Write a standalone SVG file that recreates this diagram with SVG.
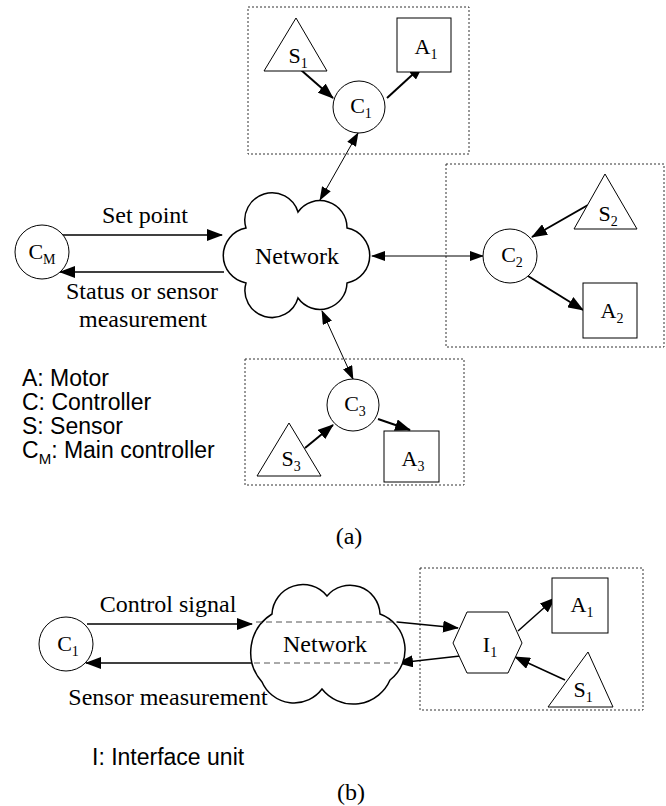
<svg xmlns="http://www.w3.org/2000/svg" width="666" height="806" viewBox="0 0 666 806">
<style>
.bg{fill:#fff}
.box{fill:none;stroke:#333;stroke-width:1;stroke-dasharray:2,2}
.shape{fill:#fff;stroke:#000;stroke-width:1}
.cloud{fill:#fff;stroke:#000;stroke-width:1.5}
.thick{stroke:#000;stroke-width:2;fill:none}
.thin{stroke:#000;stroke-width:1;fill:none}
.mid{stroke:#000;stroke-width:1.5;fill:none}
.dash{stroke:#555;stroke-width:1;stroke-dasharray:6,4;fill:none}
.node{font-family:"Liberation Serif","Times New Roman",serif;font-size:22px;text-anchor:middle;fill:#000}
.lbl{font-family:"Liberation Serif","Times New Roman",serif;font-size:24px;text-anchor:middle;fill:#000}
.leg{font-family:"Liberation Sans",Arial,sans-serif;font-size:23px;fill:#000}
</style>
<defs>
<marker id="ah" markerUnits="userSpaceOnUse" viewBox="0 0 16 12" markerWidth="16" markerHeight="12" refX="15" refY="6" orient="auto-start-reverse"><path d="M0,0 L16,6 L0,12 z" fill="#000"/></marker>
<marker id="as" markerUnits="userSpaceOnUse" viewBox="0 0 14 10" markerWidth="14" markerHeight="10" refX="13" refY="5" orient="auto-start-reverse"><path d="M0,0 L14,5 L0,10 z" fill="#000"/></marker>
</defs>
<rect class="bg" x="0" y="0" width="666" height="806"/>

<g id="boxes">
<rect class="box" x="248" y="7" width="221" height="147"/>
<rect class="box" x="446" y="164" width="218" height="183"/>
<rect class="box" x="245" y="359" width="219" height="126"/>
<rect class="box" x="420" y="568" width="223" height="142"/>
</g>

<g id="connectors">
<line class="thick" x1="293" y1="63" x2="333" y2="98" marker-end="url(#ah)"/>
<line class="thick" x1="387" y1="98" x2="423" y2="65" marker-end="url(#ah)"/>
<line class="thin" x1="320" y1="200" x2="358" y2="133" marker-start="url(#as)" marker-end="url(#as)"/>
<line class="thin" x1="372" y1="256" x2="483" y2="256" marker-start="url(#as)" marker-end="url(#as)"/>
<line class="thin" x1="322" y1="311" x2="353" y2="379" marker-start="url(#as)" marker-end="url(#as)"/>
<line class="thick" x1="588" y1="205" x2="532" y2="237" marker-end="url(#ah)"/>
<line class="thick" x1="528" y1="276" x2="583" y2="310" marker-end="url(#ah)"/>
<line class="thick" x1="305" y1="448" x2="333" y2="425" marker-end="url(#ah)"/>
<line class="thick" x1="378" y1="419" x2="410" y2="430" marker-end="url(#ah)"/>
<line class="mid" x1="62" y1="235" x2="222" y2="235" marker-end="url(#ah)"/>
<line class="mid" x1="224" y1="272" x2="60" y2="272" marker-end="url(#ah)"/>
<line class="mid" x1="87" y1="624" x2="252" y2="624" marker-end="url(#ah)"/>
<line class="mid" x1="254" y1="663" x2="86" y2="663" marker-end="url(#ah)"/>
<line class="mid" x1="397" y1="622" x2="458" y2="628" marker-end="url(#ah)"/>
<line class="mid" x1="460" y1="656" x2="398" y2="663" marker-end="url(#ah)"/>
<line class="mid" x1="518" y1="631" x2="555" y2="598" marker-end="url(#ah)"/>
<line class="mid" x1="565" y1="680" x2="515" y2="657" marker-end="url(#ah)"/>
</g>

<g id="network-a">
<path class="cloud" d="M298,212 A27,27 0 0 1 347,228 A28,28 0 0 1 347,283 A27,27 0 0 1 298,298 A27,27 0 0 1 246,283 A28,28 0 0 1 246,228 A27,27 0 0 1 298,212 Z"/>
<text class="lbl" x="297" y="264">Network</text>
</g>

<g id="CM">
<circle class="shape" cx="42" cy="252" r="27"/>
<text class="node" x="42" y="259">C<tspan font-size="14" dy="5">M</tspan></text>
</g>
<g id="labels-a">
<text class="lbl" x="145" y="223">Set point</text>
<text class="lbl" x="142" y="299">Status or sensor</text>
<text class="lbl" x="143" y="327">measurement</text>
</g>

<g id="S1a">
<polygon class="shape" points="296,18 264,71 327,71"/>
<text class="node" x="298" y="63">S<tspan font-size="14" dy="5">1</tspan></text>
</g>
<g id="C1a">
<circle class="shape" cx="359" cy="107" r="26"/>
<text class="node" x="361" y="113">C<tspan font-size="14" dy="5">1</tspan></text>
</g>
<g id="A1a">
<rect class="shape" x="397" y="18" width="54" height="54"/>
<text class="node" x="426" y="54">A<tspan font-size="14" dy="5">1</tspan></text>
</g>

<g id="S2">
<polygon class="shape" points="605,174 574,229 637,229"/>
<text class="node" x="608" y="221">S<tspan font-size="14" dy="5">2</tspan></text>
</g>
<g id="C2">
<circle class="shape" cx="510" cy="256" r="27"/>
<text class="node" x="512" y="262">C<tspan font-size="14" dy="5">2</tspan></text>
</g>
<g id="A2">
<rect class="shape" x="583" y="283" width="54" height="55"/>
<text class="node" x="612" y="318">A<tspan font-size="14" dy="5">2</tspan></text>
</g>

<g id="C3">
<circle class="shape" cx="353" cy="405" r="26"/>
<text class="node" x="355" y="411">C<tspan font-size="14" dy="5">3</tspan></text>
</g>
<g id="S3">
<polygon class="shape" points="289,423 257,476 321,476"/>
<text class="node" x="291" y="466">S<tspan font-size="14" dy="5">3</tspan></text>
</g>
<g id="A3">
<rect class="shape" x="384" y="431" width="55" height="51"/>
<text class="node" x="413" y="466">A<tspan font-size="14" dy="5">3</tspan></text>
</g>

<g id="legend-a">
<text class="leg" x="22" y="386">A: Motor</text>
<text class="leg" x="22" y="410">C: Controller</text>
<text class="leg" x="22" y="434">S: Sensor</text>
<text class="leg" x="22" y="458">C<tspan font-size="15" dy="6">M</tspan><tspan dy="-6">: Main controller</tspan></text>
</g>
<text class="lbl" x="349" y="544" font-size="21">(a)</text>

<g id="C1b">
<circle class="shape" cx="66" cy="644" r="27"/>
<text class="node" x="68" y="651">C<tspan font-size="14" dy="5">1</tspan></text>
</g>
<g id="labels-b">
<text class="lbl" x="168" y="612">Control signal</text>
<text class="lbl" x="168" y="705">Sensor measurement</text>
</g>
<g id="network-b">
<path class="cloud" d="M327,596 A30,30 0 0 1 380,614 A38,38 0 0 1 390,680 A40,40 0 0 1 322,689 A35,35 0 0 1 262,682 A45,45 0 0 1 272,614 A31,31 0 0 1 327,596 Z"/>
<line class="dash" x1="256" y1="622" x2="398" y2="622"/>
<line class="dash" x1="254" y1="663" x2="398" y2="663"/>
<text class="lbl" x="325" y="652">Network</text>
</g>
<g id="I1">
<polygon class="shape" points="453,643 467,612 508,612 522,643 508,673 467,673"/>
<text class="node" x="490" y="652">I<tspan font-size="14" dy="5">1</tspan></text>
</g>
<g id="A1b">
<rect class="shape" x="552" y="578" width="56" height="55"/>
<text class="node" x="582" y="612">A<tspan font-size="14" dy="5">1</tspan></text>
</g>
<g id="S1b">
<polygon class="shape" points="588,652 548,707 613,707"/>
<text class="node" x="583" y="697">S<tspan font-size="14" dy="5">1</tspan></text>
</g>
<text class="leg" x="92" y="765" font-size="24">I: Interface unit</text>
<text class="lbl" x="351" y="800" font-size="21">(b)</text>
</svg>
